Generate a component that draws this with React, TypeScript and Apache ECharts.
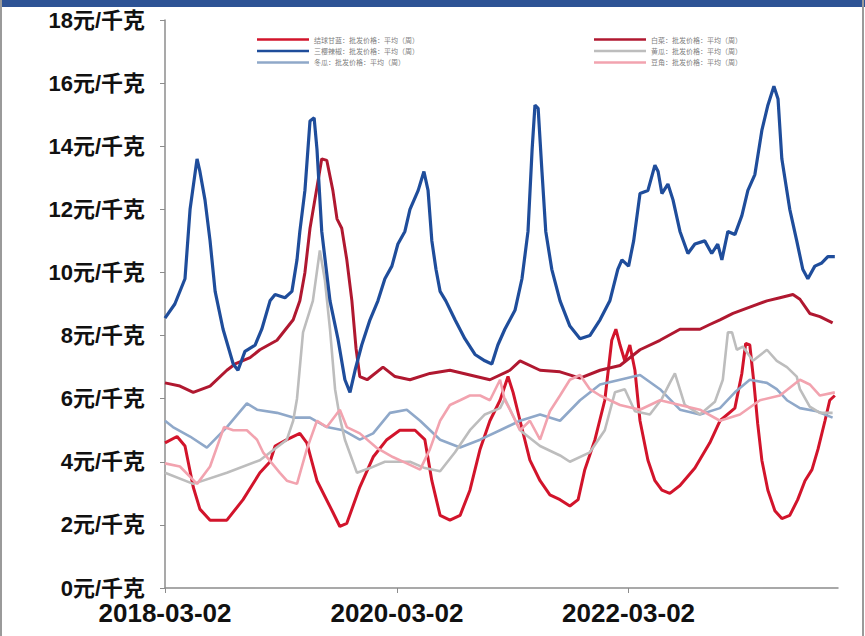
import React, { useEffect, useRef } from "react";
import * as echarts from "echarts";

type Pt = [string, number];

const seriesNames: string[] = [
  "结球甘蓝：批发价格：平均（周）",
  "三樱辣椒：批发价格：平均（周）",
  "冬瓜：批发价格：平均（周）",
  "白菜：批发价格：平均（周）",
  "黄瓜：批发价格：平均（周）",
  "豆角：批发价格：平均（周）",
];

const yTicks: number[] = [0, 2, 4, 6, 8, 10, 12, 14, 16, 18];
const xLabelDates: string[] = ["2018-03-02", "2020-03-02", "2022-03-02"];
const xStart = "2018-03-02";
const xEnd = "2023-12-22";

const redSeasonal: Pt[] = [
  ["2018-03-02", 4.6], ["2018-04-09", 4.8], ["2018-05-04", 4.5], ["2018-05-30", 3.2],
  ["2018-06-20", 2.5], ["2018-07-22", 2.15], ["2018-09-13", 2.15], ["2018-11-03", 2.8],
  ["2018-12-26", 3.65], ["2019-01-27", 4.0], ["2019-02-12", 4.5], ["2019-03-21", 4.7],
  ["2019-05-01", 4.9], ["2019-05-23", 4.6], ["2019-06-24", 3.4], ["2019-08-13", 2.4],
  ["2019-09-04", 1.95], ["2019-09-26", 2.05], ["2019-11-06", 3.2], ["2019-12-18", 4.15],
  ["2020-01-30", 4.7], ["2020-03-11", 5.0], ["2020-04-28", 5.0], ["2020-05-29", 4.7],
  ["2020-06-20", 3.4], ["2020-07-16", 2.3], ["2020-08-16", 2.15], ["2020-09-17", 2.3],
  ["2020-10-18", 3.1], ["2020-11-19", 4.4], ["2020-12-20", 5.3], ["2021-01-21", 5.95],
  ["2021-02-15", 6.7], ["2021-03-03", 6.2], ["2021-03-25", 5.3], ["2021-04-25", 4.05],
  ["2021-05-27", 3.4], ["2021-06-27", 2.95], ["2021-07-29", 2.8], ["2021-08-29", 2.6],
  ["2021-09-24", 2.8], ["2021-10-15", 3.75], ["2021-11-16", 4.7], ["2021-12-17", 5.95],
  ["2022-01-08", 7.85], ["2022-01-21", 8.2], ["2022-02-03", 7.7], ["2022-02-18", 7.2],
  ["2022-03-06", 7.7], ["2022-03-22", 6.9], ["2022-04-07", 5.3], ["2022-05-02", 4.05],
  ["2022-05-24", 3.4], ["2022-06-15", 3.1], ["2022-07-10", 3.0], ["2022-08-11", 3.25],
  ["2022-09-27", 3.8], ["2022-11-13", 4.6], ["2022-12-15", 5.3], ["2023-01-31", 5.7],
  ["2023-02-22", 6.8], ["2023-03-06", 7.75], ["2023-03-19", 7.7], ["2023-04-01", 6.5],
  ["2023-04-13", 5.2], ["2023-04-26", 4.05], ["2023-05-15", 3.1], ["2023-06-06", 2.45],
  ["2023-06-28", 2.2], ["2023-07-23", 2.3], ["2023-08-17", 2.8], ["2023-09-09", 3.4],
  ["2023-10-01", 3.75], ["2023-10-20", 4.4], ["2023-11-11", 5.3], ["2023-11-26", 5.95],
  ["2023-12-12", 6.1],
];

const blueMain: Pt[] = [
  ["2018-03-02", 8.55], ["2018-04-02", 9.0], ["2018-05-04", 9.8], ["2018-05-20", 12.0],
  ["2018-06-11", 13.6], ["2018-06-20", 13.2], ["2018-07-06", 12.3], ["2018-07-22", 11.0],
  ["2018-08-07", 9.4], ["2018-09-01", 8.2], ["2018-10-03", 7.1], ["2018-10-18", 6.9],
  ["2018-11-09", 7.5], ["2018-12-11", 7.7], ["2019-01-01", 8.2], ["2019-01-27", 9.1],
  ["2019-02-12", 9.3], ["2019-03-15", 9.2], ["2019-04-06", 9.4], ["2019-04-22", 10.4],
  ["2019-05-01", 11.3], ["2019-05-17", 12.6], ["2019-06-02", 14.8], ["2019-06-15", 14.9],
  ["2019-06-24", 13.9], ["2019-07-09", 11.3], ["2019-08-04", 9.1], ["2019-08-29", 7.9],
  ["2019-09-20", 6.6], ["2019-10-06", 6.2], ["2019-10-22", 6.9], ["2019-11-12", 7.7],
  ["2019-12-08", 8.5], ["2020-01-02", 9.1], ["2020-01-24", 9.8], ["2020-02-15", 10.2],
  ["2020-03-05", 10.9], ["2020-03-27", 11.3], ["2020-04-12", 12.0], ["2020-05-08", 12.6],
  ["2020-05-26", 13.2], ["2020-06-08", 12.6], ["2020-06-20", 11.0], ["2020-07-03", 10.1],
  ["2020-07-16", 9.4], ["2020-08-03", 9.1], ["2020-09-01", 8.5], ["2020-10-02", 7.9],
  ["2020-11-03", 7.4], ["2020-12-04", 7.2], ["2020-12-26", 7.1], ["2021-01-14", 7.7],
  ["2021-02-05", 8.2], ["2021-03-09", 8.8], ["2021-03-31", 9.8], ["2021-04-19", 11.3],
  ["2021-05-02", 13.9], ["2021-05-11", 15.3], ["2021-05-21", 15.2], ["2021-06-02", 13.2],
  ["2021-06-14", 11.3], ["2021-07-03", 10.1], ["2021-07-29", 9.1], ["2021-08-29", 8.3],
  ["2021-09-30", 7.9], ["2021-10-31", 8.0], ["2021-12-02", 8.5], ["2022-01-02", 9.1],
  ["2022-01-27", 10.1], ["2022-02-09", 10.4], ["2022-03-02", 10.2], ["2022-03-18", 11.0],
  ["2022-04-07", 12.5], ["2022-05-02", 12.6], ["2022-05-24", 13.4], ["2022-06-03", 13.2],
  ["2022-06-15", 12.5], ["2022-07-04", 12.8], ["2022-07-20", 12.3], ["2022-08-11", 11.3],
  ["2022-09-05", 10.6], ["2022-09-27", 10.9], ["2022-10-28", 11.0], ["2022-11-19", 10.6],
  ["2022-12-08", 10.9], ["2022-12-21", 10.4], ["2023-01-09", 11.3], ["2023-01-31", 11.2],
  ["2023-02-22", 11.8], ["2023-03-13", 12.6], ["2023-04-04", 13.1], ["2023-04-26", 14.5],
  ["2023-05-15", 15.3], ["2023-06-03", 15.9], ["2023-06-16", 15.5], ["2023-06-28", 13.6],
  ["2023-07-23", 12.0], ["2023-08-14", 11.0], ["2023-09-02", 10.1], ["2023-09-18", 9.8],
  ["2023-10-10", 10.2], ["2023-11-01", 10.3], ["2023-11-20", 10.5], ["2023-12-12", 10.5],
];

const lightBlue: Pt[] = [
  ["2018-03-02", 5.3], ["2018-03-27", 5.1], ["2018-05-20", 4.8], ["2018-07-12", 4.45],
  ["2018-09-13", 5.1], ["2018-11-15", 5.85], ["2018-12-17", 5.65], ["2019-02-18", 5.55],
  ["2019-04-10", 5.4], ["2019-06-02", 5.4], ["2019-07-25", 5.1], ["2019-09-14", 5.0],
  ["2019-11-06", 4.7], ["2019-12-18", 4.9], ["2020-02-09", 5.55], ["2020-04-02", 5.65],
  ["2020-05-14", 5.3], ["2020-07-16", 4.7], ["2020-09-17", 4.45], ["2020-11-19", 4.7],
  ["2021-01-21", 5.0], ["2021-03-25", 5.3], ["2021-05-27", 5.5], ["2021-07-29", 5.3],
  ["2021-09-30", 5.95], ["2021-12-02", 6.45], ["2022-02-03", 6.6], ["2022-04-07", 6.75],
  ["2022-06-09", 6.3], ["2022-08-11", 5.65], ["2022-10-13", 5.5], ["2022-12-15", 5.7],
  ["2023-01-31", 6.2], ["2023-03-19", 6.6], ["2023-05-12", 6.5], ["2023-06-12", 6.3],
  ["2023-07-14", 5.95], ["2023-08-24", 5.7], ["2023-10-16", 5.6], ["2023-12-05", 5.4],
];

const redDark: Pt[] = [
  ["2018-03-02", 6.5], ["2018-04-18", 6.4], ["2018-05-30", 6.2], ["2018-07-22", 6.4],
  ["2018-09-13", 6.9], ["2018-10-09", 7.1], ["2018-11-25", 7.3], ["2018-12-26", 7.55],
  ["2019-02-18", 7.85], ["2019-04-10", 8.5], ["2019-05-01", 9.1], ["2019-05-17", 10.0],
  ["2019-06-02", 11.4], ["2019-06-24", 12.7], ["2019-07-09", 13.6], ["2019-07-25", 13.55],
  ["2019-08-13", 12.6], ["2019-08-26", 11.7], ["2019-09-10", 11.4], ["2019-09-26", 10.4],
  ["2019-10-12", 9.1], ["2019-10-25", 7.6], ["2019-11-06", 6.7], ["2019-11-29", 6.6],
  ["2020-01-18", 7.0], ["2020-02-25", 6.7], ["2020-04-12", 6.6], ["2020-06-14", 6.8],
  ["2020-08-16", 6.9], ["2020-10-18", 6.75], ["2020-12-20", 6.6], ["2021-02-21", 6.9],
  ["2021-03-25", 7.2], ["2021-05-27", 6.9], ["2021-07-29", 6.85], ["2021-09-30", 6.65],
  ["2021-12-02", 6.9], ["2022-02-03", 7.05], ["2022-04-07", 7.55], ["2022-06-09", 7.85],
  ["2022-08-11", 8.2], ["2022-10-13", 8.2], ["2022-11-13", 8.35], ["2022-12-15", 8.5],
  ["2023-01-25", 8.7], ["2023-03-19", 8.9], ["2023-05-12", 9.1], ["2023-06-22", 9.2],
  ["2023-08-02", 9.3], ["2023-08-24", 9.15], ["2023-09-24", 8.7], ["2023-10-26", 8.6],
  ["2023-12-05", 8.4],
];

const grayLine: Pt[] = [
  ["2018-03-02", 3.65], ["2018-05-30", 3.3], ["2018-09-13", 3.65], ["2018-12-26", 4.05],
  ["2019-03-21", 4.7], ["2019-04-10", 5.3], ["2019-04-22", 6.0], ["2019-05-11", 8.1],
  ["2019-06-11", 9.1], ["2019-07-03", 10.7], ["2019-07-19", 9.75], ["2019-08-04", 8.2],
  ["2019-08-20", 6.3], ["2019-09-04", 5.4], ["2019-09-20", 4.7], ["2019-10-28", 3.65],
  ["2019-12-08", 3.8], ["2020-01-24", 4.0], ["2020-04-12", 4.0], ["2020-05-29", 3.8],
  ["2020-07-16", 3.7], ["2020-09-01", 4.3], ["2020-10-18", 5.0], ["2020-12-04", 5.5],
  ["2021-01-21", 5.7], ["2021-02-05", 6.0], ["2021-03-25", 5.0], ["2021-05-27", 4.5],
  ["2021-07-29", 4.2], ["2021-08-29", 4.0], ["2021-10-31", 4.3], ["2021-12-17", 5.0],
  ["2022-01-18", 6.2], ["2022-02-18", 6.3], ["2022-03-22", 5.6], ["2022-05-08", 5.5],
  ["2022-06-15", 6.0], ["2022-07-10", 6.5], ["2022-07-26", 6.8], ["2022-08-26", 5.8],
  ["2022-10-13", 5.5], ["2022-11-29", 5.9], ["2022-12-24", 6.6], ["2023-01-09", 8.1],
  ["2023-01-22", 8.1], ["2023-02-06", 7.55], ["2023-02-25", 7.65], ["2023-03-29", 7.2],
  ["2023-05-12", 7.55], ["2023-06-12", 7.2], ["2023-07-14", 7.0], ["2023-08-14", 6.7],
  ["2023-08-24", 6.3], ["2023-09-24", 5.75], ["2023-10-26", 5.55], ["2023-12-05", 5.55],
];

const pinkLine: Pt[] = [
  ["2018-03-02", 3.95], ["2018-04-18", 3.85], ["2018-06-11", 3.3], ["2018-07-22", 3.85],
  ["2018-09-04", 5.1], ["2018-10-03", 5.0], ["2018-11-15", 5.0], ["2018-12-17", 4.7],
  ["2019-01-05", 4.3], ["2019-02-27", 3.65], ["2019-03-21", 3.4], ["2019-04-22", 3.3],
  ["2019-05-23", 4.4], ["2019-06-24", 5.3], ["2019-07-25", 5.1], ["2019-09-04", 5.65],
  ["2019-09-26", 5.1], ["2019-11-06", 4.9], ["2019-12-28", 4.45], ["2020-02-18", 4.15],
  ["2020-04-02", 3.95], ["2020-05-14", 3.75], ["2020-06-14", 4.4], ["2020-07-16", 5.3],
  ["2020-08-16", 5.8], ["2020-09-17", 5.95], ["2020-10-18", 6.1], ["2020-11-19", 6.1],
  ["2020-12-20", 5.95], ["2021-01-21", 6.6], ["2021-02-05", 5.95], ["2021-02-21", 5.65],
  ["2021-03-25", 5.0], ["2021-04-25", 5.3], ["2021-05-27", 4.7], ["2021-06-27", 5.6],
  ["2021-07-29", 6.1], ["2021-08-29", 6.6], ["2021-09-30", 6.75], ["2021-10-31", 6.3],
  ["2021-12-02", 6.1], ["2022-01-02", 5.95], ["2022-02-03", 5.8], ["2022-04-07", 5.65],
  ["2022-06-09", 5.95], ["2022-08-11", 5.8], ["2022-10-13", 5.65], ["2022-12-15", 5.3],
  ["2023-02-16", 5.5], ["2023-04-20", 5.95], ["2023-06-22", 6.1], ["2023-08-24", 6.6],
  ["2023-09-24", 6.45], ["2023-10-26", 6.1], ["2023-12-12", 6.2],
];

const seriesData: Pt[][] = [redSeasonal, blueMain, lightBlue, redDark, grayLine, pinkLine];
const seriesColors: string[] = ["#D2142B", "#1F4D9B", "#8FA8C9", "#B01830", "#BDBDBD", "#F2A3AF"];
const seriesWidths: number[] = [3, 3.2, 2.6, 3, 2.6, 2.6];

const ts = (s: string) => echarts.number.parseDate(s).getTime();
const pad = (n: number) => (n < 10 ? "0" + n : "" + n);
const fmtDate = (v: number) => {
  const d = new Date(v);
  return d.getFullYear() + "-" + pad(d.getMonth() + 1) + "-" + pad(d.getDate());
};

export default function App() {
  const ref = useRef<HTMLDivElement>(null);
  useEffect(() => {
    if (!ref.current) return;
    const chart = echarts.init(ref.current, null, { renderer: "svg" });
    const labelFont = "'Liberation Sans', 'Noto Sans CJK SC', sans-serif";
    const legendBase = {
      orient: "vertical" as const,
      icon: "rect",
      itemWidth: 52,
      itemHeight: 2.5,
      itemGap: 4.5,
      textStyle: { fontSize: 7, color: "#808080", fontFamily: "'Noto Sans CJK SC', sans-serif" },
    };
    const tickVals = xLabelDates.map(ts);
    chart.setOption({
      animation: false,
      backgroundColor: "#ffffff",
      grid: { left: 165, right: 27, top: 20, bottom: 48, containLabel: false },
      legend: [
        { ...legendBase, left: 252, top: 31, data: seriesNames.slice(0, 3) },
        { ...legendBase, left: 589, top: 31, data: seriesNames.slice(3, 6) },
      ],
      xAxis: {
        type: "value",
        min: ts(xStart),
        max: ts(xEnd),
        splitLine: { show: false },
        axisLine: { show: true, lineStyle: { color: "#8c8c8c", width: 1.5 } },
        axisTick: {
          show: true,
          length: 5,
          lineStyle: { color: "#8c8c8c" },
          customValues: tickVals,
        },
        axisLabel: {
          customValues: tickVals,
          formatter: (v: number) => fmtDate(v),
          fontSize: 26,
          fontWeight: "bold",
          color: "#111",
          fontFamily: labelFont,
          margin: 12,
        },
      },
      yAxis: {
        type: "value",
        min: yTicks[0],
        max: yTicks[yTicks.length - 1],
        interval: 2,
        splitLine: { show: false },
        axisLine: { show: true, lineStyle: { color: "#8c8c8c", width: 1.5 } },
        axisTick: { show: true, length: 5, lineStyle: { color: "#8c8c8c" } },
        axisLabel: {
          formatter: "{value}元/千克",
          fontSize: 22,
          fontWeight: "bold",
          color: "#111",
          fontFamily: labelFont,
          margin: 20,
        },
      },
      series: seriesNames.map((name, i) => ({
        name,
        type: "line",
        data: seriesData[i].map(([d, v]) => [ts(d), v]),
        symbol: "none",
        showSymbol: false,
        color: seriesColors[i],
        lineStyle: { color: seriesColors[i], width: seriesWidths[i] },
        z: i === 1 ? 3 : 2,
      })),
      graphic: [
        { type: "rect", left: 0, top: 0, shape: { width: 865, height: 7 }, style: { fill: "#2E5395" } },
        { type: "line", shape: { x1: 1, y1: 0, x2: 1, y2: 636 }, style: { stroke: "#9a9a9a", lineWidth: 2 } },
        { type: "line", shape: { x1: 863, y1: 0, x2: 863, y2: 636 }, style: { stroke: "#9a9a9a", lineWidth: 2 } },
      ],
    });
    return () => chart.dispose();
  }, []);
  return (
    <div
      ref={ref}
      style={{ position: "fixed", left: 0, top: 0, width: 865, height: 636, background: "#fff" }}
    />
  );
}
